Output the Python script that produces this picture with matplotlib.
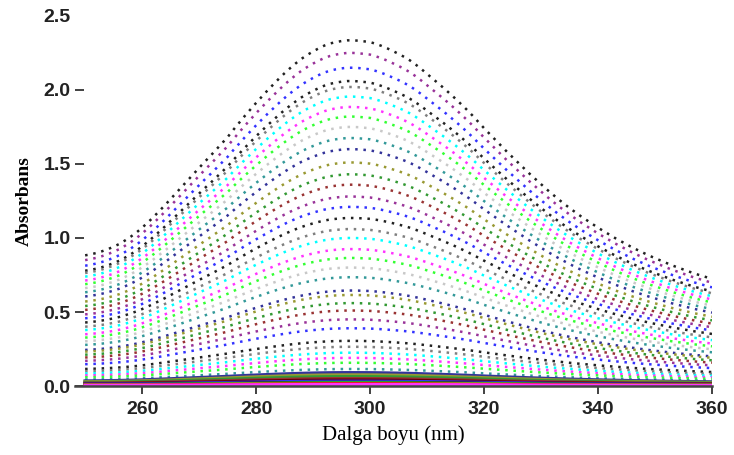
import matplotlib.pyplot as plt
import numpy as np

# -------------------------- fonts --------------------------
plt.rcParams['font.family'] = ['Liberation Sans', 'DejaVu Sans']

# -------------------------- data --------------------------
wavelength = np.arange(250, 361)  # nm, one point per nm

# normalised band shape (top curve / its peak)
profile = np.array([
    0.378, 0.381, 0.385, 0.390, 0.396, 0.403, 0.411, 0.421, 0.432, 0.444,
    0.458, 0.473, 0.489, 0.506, 0.523, 0.541, 0.559, 0.577, 0.595, 0.613,
    0.631, 0.649, 0.666, 0.684, 0.702, 0.720, 0.741, 0.761, 0.781, 0.800,
    0.819, 0.837, 0.855, 0.872, 0.889, 0.905, 0.920, 0.934, 0.947, 0.958,
    0.968, 0.977, 0.985, 0.991, 0.995, 0.998, 1.000, 1.000, 0.999, 0.997,
    0.995, 0.990, 0.984, 0.977, 0.969, 0.961, 0.952, 0.942, 0.930, 0.917,
    0.903, 0.889, 0.875, 0.861, 0.846, 0.831, 0.815, 0.799, 0.782, 0.764,
    0.746, 0.729, 0.712, 0.695, 0.678, 0.662, 0.646, 0.630, 0.614, 0.599,
    0.584, 0.569, 0.555, 0.541, 0.528, 0.515, 0.503, 0.491, 0.480, 0.469,
    0.458, 0.448, 0.438, 0.428, 0.419, 0.410, 0.401, 0.393, 0.385, 0.377,
    0.370, 0.363, 0.356, 0.349, 0.343, 0.337, 0.331, 0.325, 0.320, 0.315,
    0.310,
])

# peak absorbance of each spectrum
peaks = [2.335, 2.25, 2.15, 2.06, 2.02, 1.955, 1.885, 1.82, 1.75, 1.675,
         1.60, 1.51, 1.43, 1.36, 1.28, 1.21, 1.135, 1.06, 1.00, 0.925,
         0.865, 0.80, 0.735, 0.645, 0.615, 0.56, 0.51, 0.45, 0.39, 0.305,
         0.265, 0.225, 0.19, 0.157, 0.115, 0.09, 0.075, 0.063, 0.05, 0.04,
         0.032, 0.025, 0.02, 0.015, 0.01]

black, purple, blue, gray = '#222222', '#993399', '#3333ff', '#7f7f7f'
cyan, magenta, lime, lgray = '#00ffff', '#ff33ff', '#33ff33', '#c8c8c8'
teal, navy, olive, dgreen = '#339999', '#333399', '#999933', '#339933'
brown, maroon, red = '#993333', '#660000', '#ff0000'

colors = [black, purple, blue, black, gray, cyan, magenta, lime, lgray, teal,
          navy, olive, dgreen, brown, purple, blue, black, gray, cyan, magenta,
          lime, lgray, teal, navy, olive, dgreen, brown, purple, blue, black,
          gray, cyan, magenta, lime, teal, navy, olive, dgreen, brown, maroon,
          blue, black, lime, red, magenta]

x_ticks = [260, 280, 300, 320, 340, 360]
y_ticks = [0.0, 0.5, 1.0, 1.5, 2.0, 2.5]

# -------------------------- figure --------------------------
fig = plt.figure(figsize=(7.34, 4.55), dpi=100)
ax = fig.add_axes([0.102, 0.1516, 0.868, 0.8134])

for pk, c in zip(peaks, colors):
    if pk < 0.1:
        # near-zero spectra merge into solid bands at the bottom
        ax.plot(wavelength, pk * profile, color=c, linewidth=2.4)
    else:
        ax.plot(wavelength, pk * profile, color=c, linewidth=1.8,
                linestyle=(0, (1, 2.3)))

ax.set_xlim(248.2, 360)
ax.set_ylim(0, 2.5)
ax.set_xticks(x_ticks)
ax.set_yticks(y_ticks)
ax.set_yticklabels([f'{v:.1f}' for v in y_ticks])

for s in ['top', 'right', 'left']:
    ax.spines[s].set_visible(False)
ax.spines['bottom'].set_color('#444444')
ax.spines['bottom'].set_linewidth(1.8)
ax.spines['bottom'].set_zorder(5)

ax.tick_params(axis='x', direction='out', length=6, width=1.3,
               color='#333333', pad=5, labelsize=14)
ax.tick_params(axis='y', direction='in', length=6.5, width=1.3,
               color='#333333', pad=3, labelsize=14)
ax.yaxis.get_major_ticks()[-1].tick1line.set_visible(False)
for lab in ax.get_xticklabels() + ax.get_yticklabels():
    lab.set_fontweight('bold')
    lab.set_color('#222222')

ax.set_xlabel('Dalga boyu (nm)', family=['Liberation Serif', 'DejaVu Serif'],
              fontsize=15, labelpad=5)
ax.set_ylabel('Absorbans', family=['Liberation Serif', 'DejaVu Serif'],
              fontsize=14, fontweight='bold', labelpad=8)

fig.savefig('out.png', dpi=100)
